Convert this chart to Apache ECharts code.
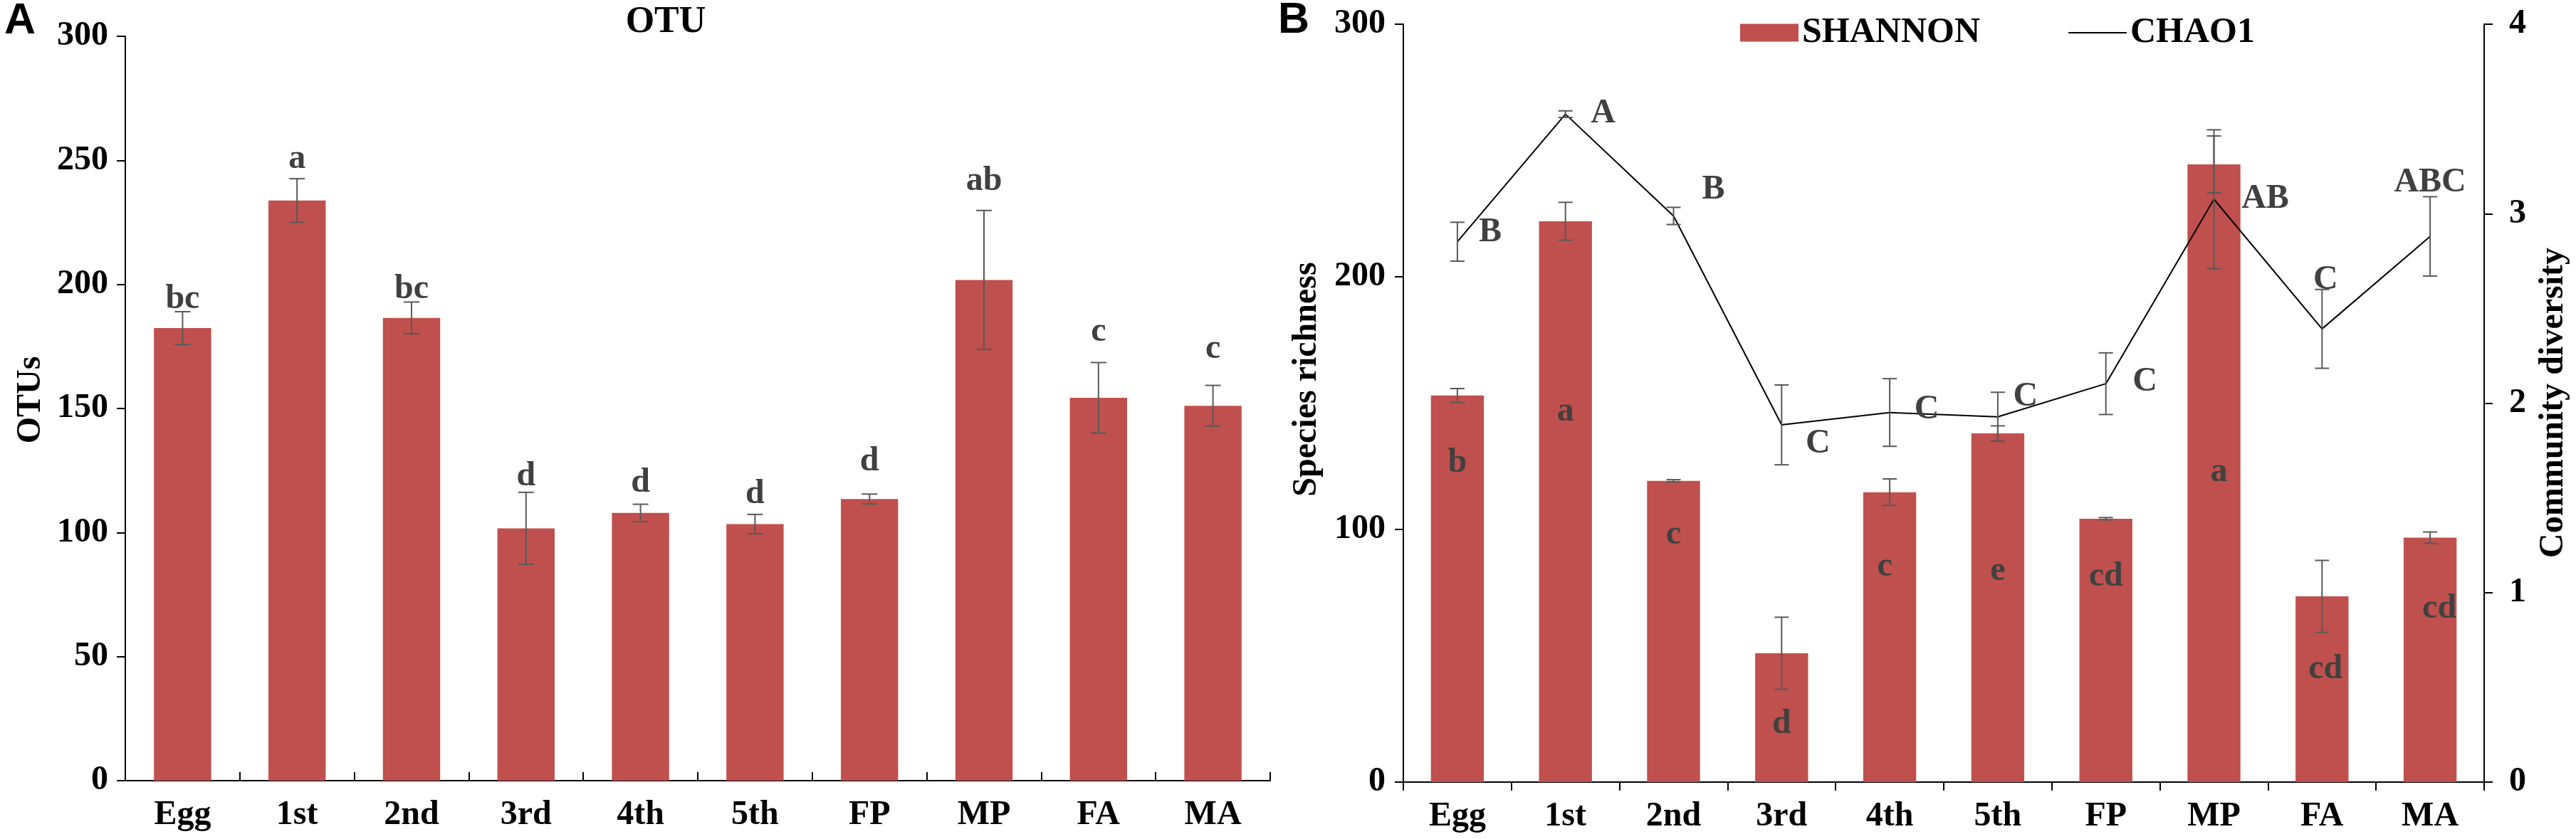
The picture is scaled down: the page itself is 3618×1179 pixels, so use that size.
<!DOCTYPE html>
<html>
<head>
<meta charset="utf-8">
<script src="https://cdn.jsdelivr.net/npm/echarts@6/dist/echarts.min.js"></script>
<style>
html,body{margin:0;padding:0;background:#fff;}
#chart{width:3618px;height:1179px;}
</style>
</head>
<body>
<div id="chart"></div>
<script>
// ---------- data ----------
var categories = ['Egg','1st','2nd','3rd','4th','5th','FP','MP','FA','MA'];

// Panel A: OTUs
var otuMean = [182.4, 233.8, 186.5, 101.7, 107.9, 103.4, 113.5, 201.8, 154.3, 151.1];
var otuErr  = [6.6, 8.8, 6.4, 14.5, 3.5, 3.9, 2.0, 28.0, 14.2, 8.2];
var otuLetters = ['bc','a','bc','d','d','d','d','ab','c','c'];
var otuLetterPos = [190.1, 246.6, 193.9, 118.7, 116.1, 111.3, 124.7, 237.5, 176.9, 169.8];

// Panel B: Shannon (bars, right axis) and Chao1 (line, left axis)
var shannonMean = [2.04, 2.96, 1.59, 0.68, 1.53, 1.84, 1.39, 3.26, 0.98, 1.29];
var shannonErr  = [0.037, 0.10, 0.006, 0.19, 0.07, 0.04, 0.006, 0.15, 0.19, 0.03];
var shannonLetters = ['b','a','c','d','c','e','cd','a','cd','cd'];
var shannonLetterPos = [1.70, 1.97, 1.32, 0.32, 1.15, 1.13, 1.10, 1.65, 0.61, 0.93];

var chaoMean = [213.9, 264.4, 224.1, 141.4, 146.3, 144.6, 157.7, 230.7, 179.4, 216.0];
var chaoErr  = [7.7, 1.3, 3.4, 15.8, 13.4, 9.7, 12.2, 27.5, 15.6, 15.7];
var chaoLetters = ['B','A','B','C','C','C','C','AB','C','ABC'];
var chaoLetterPos = [217.7, 264.7, 234.6, 133.9, 147.4, 152.5, 158.4, 230.9, 198.8, 237.4];

var yTicksA = {min:0, max:300, interval:50};
var yTicksBLeft = {min:0, max:300, interval:100};
var yTicksBRight = {min:0, max:4, interval:1};

// ---------- label layout (pixel nudges, not data) ----------
var shannonLetterDx = [0, 0, 0, 0, -7, 0, 0, 7, 5, 13];
var chaoLetterDx = [46, 53, 56, 51, 52, 39, 55, 72, 5, 0];

// ---------- styles ----------
var SERIF = '"Liberation Serif","Times New Roman",serif';
var SANS = '"Liberation Sans",Arial,sans-serif';
var BAR = '#C0504D';
var ERR = '#595959';
var LETTER = '#404040';
var FS = 48;

function errData(mean, err){
  return mean.map(function(m,i){ return [i, m+err[i], m-err[i]]; });
}
function errRender(capHalf){
  return function(params, api){
    var x = api.value(0);
    var hi = api.coord([x, api.value(1)]);
    var lo = api.coord([x, api.value(2)]);
    var st = {stroke: ERR, lineWidth: 2};
    return {type:'group', children:[
      {type:'line', shape:{x1:hi[0], y1:hi[1], x2:lo[0], y2:lo[1]}, style:st},
      {type:'line', shape:{x1:hi[0]-capHalf, y1:hi[1], x2:hi[0]+capHalf, y2:hi[1]}, style:st},
      {type:'line', shape:{x1:lo[0]-capHalf, y1:lo[1], x2:lo[0]+capHalf, y2:lo[1]}, style:st}
    ]};
  };
}
function letterData(pos){ return pos.map(function(p,i){ return [i, p]; }); }
function letterRender(letters, dx, vAlign, dy){
  return function(params, api){
    var i = params.dataIndex;
    var p = api.coord([api.value(0), api.value(1)]);
    return {type:'text', x: p[0] + (dx ? dx[i] : 0), y: p[1] + (dy||0),
      style:{text: letters[i], fill: LETTER, fontSize: FS, fontWeight:'bold', fontFamily: SERIF,
             textAlign:'center', textVerticalAlign: vAlign}};
  };
}

function yAxisCfg(grid, ticks, pos, margin){
  return {
    type:'value', gridIndex: grid, position: pos,
    min: ticks.min, max: ticks.max, interval: ticks.interval,
    axisLine:{show:true, lineStyle:{color:'#000', width:2}},
    axisTick:{show:true, inside:false, length:12, lineStyle:{color:'#000', width:2}},
    axisLabel:{color:'#000', fontSize:FS, fontWeight:'bold', fontFamily:SERIF, margin: margin},
    splitLine:{show:false}
  };
}
function xAxisCfg(grid, inside){
  return {
    type:'category', gridIndex: grid, data: categories,
    axisLine:{show:true, lineStyle:{color:'#000', width:2}},
    axisTick:{show:true, inside: inside, length:12, lineStyle:{color:'#000', width:2}},
    axisLabel:{color:'#000', fontSize:FS, fontWeight:'bold', fontFamily:SERIF, margin:25},
    splitLine:{show:false}
  };
}

var legendText = {color:'#000', fontSize:50, fontWeight:'bold', fontFamily:SERIF};

var chart = echarts.init(document.getElementById('chart'), null, {renderer:'canvas'});
var option = {
  backgroundColor:'#fff',
  animation:false,
  grid:[
    {left:176, top:51, width:1608, height:1046},
    {left:1971, top:34, width:1518, height:1065}
  ],
  xAxis:[ xAxisCfg(0, true), xAxisCfg(1, false) ],
  yAxis:[
    yAxisCfg(0, yTicksA, 'left', 24),
    yAxisCfg(1, yTicksBLeft, 'left', 25),
    yAxisCfg(1, yTicksBRight, 'right', 35)
  ],
  legend:[
    {data:[{name:'SHANNON', icon:'rect'}], left:2444, top:21, padding:0, itemWidth:82, itemHeight:25,
     textStyle: legendText},
    {data:[{name:'CHAO1', icon:'rect', itemStyle:{color:'#000'}}], left:2905, top:21, padding:0,
     itemWidth:82, itemHeight:2, textStyle: legendText}
  ],
  graphic:[
    {type:'text', left:6, top:0, style:{text:'A', fill:'#000', fontSize:61, fontWeight:'bold', fontFamily:SANS}},
    {type:'text', left:1795, top:-1, style:{text:'B', fill:'#000', fontSize:61, fontWeight:'bold', fontFamily:SANS}},
    {type:'text', x:935, y:32, style:{text:'OTU', fill:'#000', fontSize:52, fontWeight:'bold', fontFamily:SERIF, textAlign:'center', textVerticalAlign:'middle'}},
    {type:'text', x:44, y:562, rotation:Math.PI/2, style:{text:'OTUs', fill:'#000', fontSize:FS, fontWeight:'bold', fontFamily:SERIF, textAlign:'center', textVerticalAlign:'middle'}},
    {type:'text', x:1836, y:533, rotation:Math.PI/2, style:{text:'Species richness', fill:'#000', fontSize:FS, fontWeight:'bold', fontFamily:SERIF, textAlign:'center', textVerticalAlign:'middle'}},
    {type:'text', x:3587, y:566, rotation:Math.PI/2, style:{text:'Community diversity', fill:'#000', fontSize:FS, fontWeight:'bold', fontFamily:SERIF, textAlign:'center', textVerticalAlign:'middle'}}
  ],
  series:[
    // Panel A
    {name:'OTU', type:'bar', xAxisIndex:0, yAxisIndex:0, data: otuMean, barWidth:'50%',
     itemStyle:{color:BAR}, z:2},
    {type:'custom', xAxisIndex:0, yAxisIndex:0, data: errData(otuMean, otuErr),
     renderItem: errRender(11), z:3, silent:true},
    {type:'custom', xAxisIndex:0, yAxisIndex:0, data: letterData(otuLetterPos),
     renderItem: letterRender(otuLetters, null, 'bottom', 10), z:4, silent:true},
    // Panel B
    {name:'SHANNON', type:'bar', xAxisIndex:1, yAxisIndex:2, data: shannonMean, barWidth:'49%',
     itemStyle:{color:BAR}, z:2},
    {type:'custom', xAxisIndex:1, yAxisIndex:2, data: errData(shannonMean, shannonErr),
     renderItem: errRender(10), z:3, silent:true},
    {type:'custom', xAxisIndex:1, yAxisIndex:2, data: letterData(shannonLetterPos),
     renderItem: letterRender(shannonLetters, shannonLetterDx, 'middle', 4), z:4, silent:true},
    {name:'CHAO1', type:'line', xAxisIndex:1, yAxisIndex:1, data: chaoMean, symbol:'none',
     lineStyle:{color:'#000', width:2}, itemStyle:{color:'#000'}, z:5},
    {type:'custom', xAxisIndex:1, yAxisIndex:1, data: errData(chaoMean, chaoErr),
     renderItem: errRender(10), z:6, silent:true},
    {type:'custom', xAxisIndex:1, yAxisIndex:1, data: letterData(chaoLetterPos),
     renderItem: letterRender(chaoLetters, chaoLetterDx, 'middle', 0), z:7, silent:true}
  ]
};
chart.setOption(option);
</script>
</body>
</html>
